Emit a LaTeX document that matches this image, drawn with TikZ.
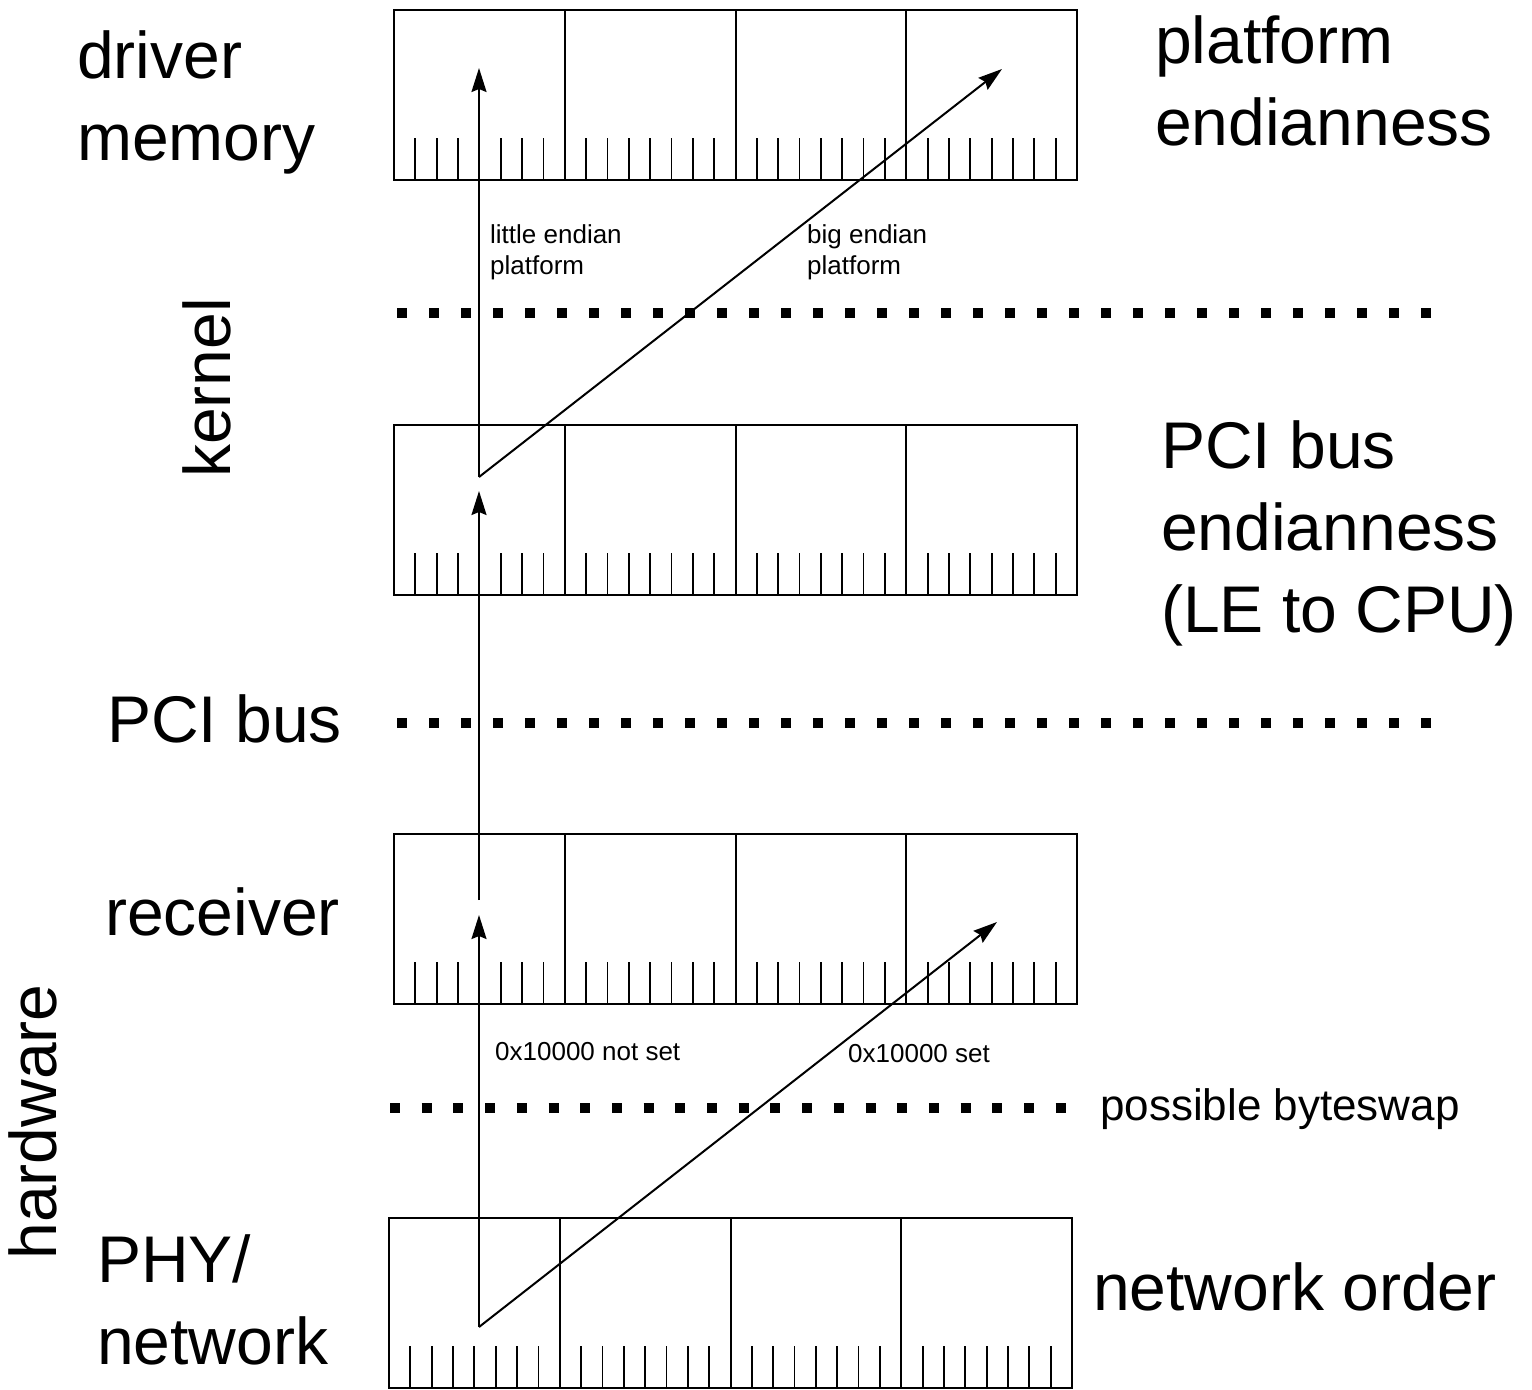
\documentclass[tikz,border=0pt]{standalone}
\usepackage{fontspec}
\setmainfont{Liberation Sans}
\usetikzlibrary{arrows.meta}
\begin{document}
\begin{tikzpicture}[x=1pt,y=-1pt,
  boxline/.style={line width=2pt, line join=miter},
  tickline/.style={line width=1.8pt},
  conn/.style={line width=2pt, -{Stealth[length=24pt,width=15pt,inset=3pt]}},
  sep/.style={line width=10pt, dash pattern=on 10pt off 22pt},
  big/.style={font=\fontsize{66}{82}\selectfont, inner sep=0pt, align=left, anchor=base west},
  small/.style={font=\fontsize{26}{31}\selectfont, inner sep=0pt, align=left, anchor=base west},
  mid/.style={font=\fontsize{44}{53}\selectfont, inner sep=0pt, anchor=base west},
  pics/membox/.style={code={
     \draw[boxline] (0,0) rectangle (683,170);
     \foreach \k in {1,2,3} \draw[boxline] ({\k*170.75},0) -- ({\k*170.75},170);
     \foreach \i in {1,...,31} {\pgfmathtruncatemacro\r{mod(\i,8)}\ifnum\r>0 \draw[tickline] ({\i*21.34375},128) -- ({\i*21.34375},170);\fi}
  }}
]
\useasboundingbox (0,0) rectangle (1532,1390);

% memory boxes
\pic (drv) at (394,10) {membox};
\pic (pci) at (394,425) {membox};
\pic (rx) at (394,834) {membox};
\pic (phy) at (389,1218) {membox};

% separators
\draw[sep] (397,313) -- (1431,313);
\draw[sep] (397,723) -- (1431,723);
\draw[sep, dash pattern=on 10pt off 21.7pt] (390,1108) -- (1066,1108);

% connector end points
\coordinate (phyP) at (479,1327);
\coordinate (rxL) at (479,915);
\coordinate (rxR) at (997,922);
\coordinate (rxS) at (479,900);
\coordinate (pciL) at (479,491);
\coordinate (pciS) at (479,477);
\coordinate (drvL) at (479,68);
\coordinate (drvR) at (1002,69);

\draw[conn] (phyP) -- (rxL);
\draw[conn] (phyP) -- (rxR);
\draw[conn] (rxS) -- (pciL);
\draw[conn] (pciS) -- (drvL);
\draw[conn] (pciS) -- (drvR);

% labels (base anchor = baseline of the last line)
\node[big] (tDrv) at (77,160) {driver\\memory};
\node[big] (tPlat) at (1155,145) {platform\\endianness};
\node[big] (tPciE) at (1161,632) {PCI bus\\endianness\\(LE to CPU)};
\node[big] (tPci) at (107,742) {PCI bus};
\node[big] (tRx) at (105,935) {receiver};
\node[big] (tPhy) at (97,1364) {PHY/\\network};
\node[big] (tNet) at (1093,1310) {network order};
\node[mid] (tSwap) at (1100,1120) {possible byteswap};
\node[small] (tLE) at (490,274) {little endian\\platform};
\node[small] (tBE) at (807,274) {big endian\\platform};
\node[small] (tNot) at (495,1060) {0x10000 not set};
\node[small] (tSet) at (848,1062) {0x10000 set};
\node[font=\fontsize{66}{82}\selectfont, inner sep=0pt, rotate=90, anchor=base] (tKer) at (230,388) {kernel};
\node[font=\fontsize{66}{82}\selectfont, inner sep=0pt, rotate=90, anchor=base] (tHw) at (56,1122) {hardware};
\end{tikzpicture}
\end{document}
